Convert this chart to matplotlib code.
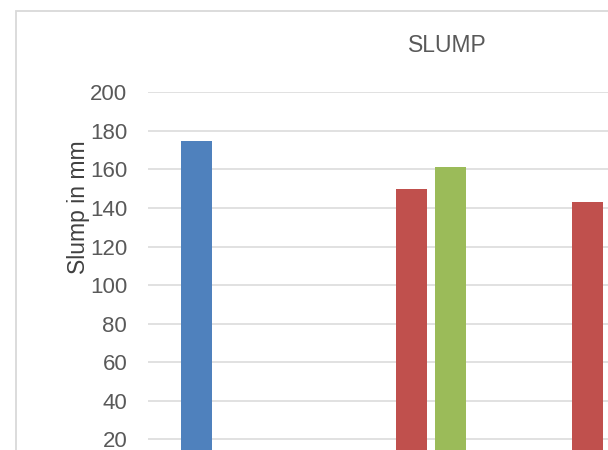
import numpy as np
import matplotlib.pyplot as plt
from matplotlib.patches import Rectangle

# values (nan = no bar visible)
categories = ["1", "2", "3"]
series_blue = [175, np.nan, np.nan]
series_red = [np.nan, 150, 143]
series_green = [np.nan, 161, np.nan]
yticks = [20, 40, 60, 80, 100, 120, 140, 160, 180, 200]

W, H = 608, 450
fig = plt.figure(figsize=(W / 100, H / 100), dpi=100)
plt.rcParams['font.family'] = ['Liberation Sans', 'DejaVu Sans']

# chart area border, partly cut off like the reference
fig.patches.append(Rectangle((16 / W, -0.5), 2, 1 - 11 / H + 0.5,
                             transform=fig.transFigure, fill=False,
                             edgecolor='#d9d9d9', linewidth=1.3))

# plot area runs past the right and bottom edges of the picture
cat_px = 175.75
ax = fig.add_axes([148 / W, 1 - 477.9 / H, 3 * cat_px / W, 385.6 / H])

x = np.arange(len(categories))
bw = 31 / cat_px
off = 39 / cat_px
ax.bar(x - off, series_blue, bw, color='#4F81BD', zorder=3)
ax.bar(x, series_red, bw, color='#C0504D', zorder=3)
ax.bar(x + off, series_green, bw, color='#9BBB59', zorder=3)

ax.set_xlim(-0.5, 2.5)
ax.set_ylim(0, 200)
ax.set_yticks(yticks)
ax.set_xticks([])
ax.tick_params(axis='y', length=0, pad=15, labelsize=16, labelcolor='#595959')
ax.yaxis.grid(True, color='#d9d9d9', linewidth=1.1, zorder=0)
for s in ax.spines.values():
    s.set_visible(False)

fig.text(447.7 / W, 1 - 45.7 / H, "SLUMP", ha='center', va='center',
         fontsize=16.5, color='#595959')
fig.text(78 / W, 1 - 207 / H, "Slump in mm", ha='center', va='center',
         rotation=90, fontsize=16.5, color='#404040')

fig.savefig("out.png", dpi=100)
